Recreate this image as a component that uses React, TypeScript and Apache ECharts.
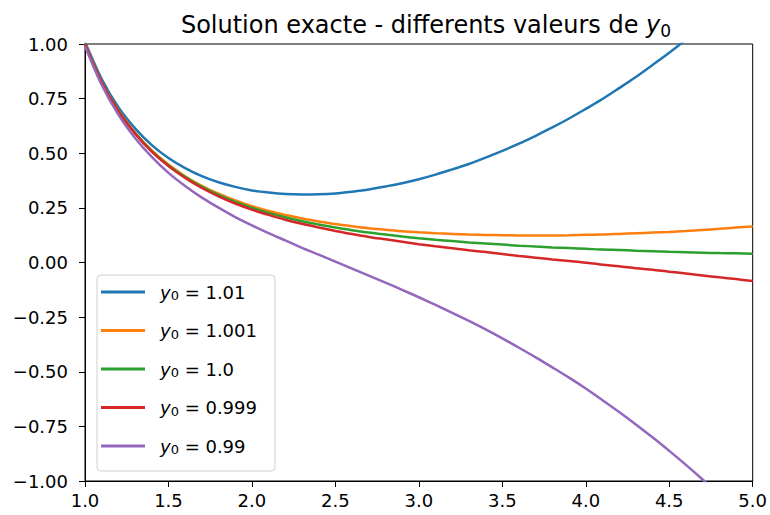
import React, { useEffect, useRef } from "react";
import * as echarts from "echarts";

const xs = [
  1.0, 1.1, 1.2, 1.3, 1.4, 1.5, 1.6, 1.7, 1.8, 1.9, 2.0, 2.1, 2.2, 2.3, 2.4, 2.5, 2.6, 2.7, 2.8, 2.9, 3.0,
  3.1, 3.2, 3.3, 3.4, 3.5, 3.6, 3.7, 3.8, 3.9, 4.0, 4.1, 4.2, 4.3, 4.4, 4.5, 4.6, 4.7, 4.8, 4.9, 5.0,
];

const y0Labels = ["1.01", "1.001", "1.0", "0.999", "0.99"];
const colors = ["#1f77b4", "#ff7f0e", "#2ca02c", "#d62728", "#9467bd"];

const blue = [
  1.01, 0.84, 0.711, 0.614, 0.537, 0.478, 0.432, 0.395, 0.367, 0.346, 0.33, 0.32, 0.313, 0.311, 0.312, 0.316,
  0.324, 0.334, 0.348, 0.363, 0.381, 0.402, 0.426, 0.451, 0.48, 0.511, 0.544, 0.58, 0.618, 0.659, 0.703, 0.748,
  0.798, 0.849, 0.904, 0.96, 1.02, 1.083, 1.149, 1.218, 1.29,
];
const orange = [
  1.001, 0.827, 0.696, 0.594, 0.513, 0.448, 0.395, 0.351, 0.315, 0.284, 0.258, 0.236, 0.218, 0.201, 0.188, 0.176,
  0.166, 0.157, 0.15, 0.143, 0.138, 0.134, 0.131, 0.128, 0.126, 0.125, 0.124, 0.124, 0.124, 0.125, 0.127, 0.128,
  0.131, 0.134, 0.137, 0.14, 0.144, 0.149, 0.154, 0.16, 0.165,
];
const green = [
  1.0, 0.826, 0.694, 0.592, 0.51, 0.444, 0.391, 0.346, 0.309, 0.277, 0.25, 0.227, 0.207, 0.189, 0.174, 0.16,
  0.148, 0.137, 0.128, 0.119, 0.111, 0.104, 0.098, 0.092, 0.087, 0.082, 0.077, 0.073, 0.069, 0.066, 0.063, 0.059,
  0.057, 0.054, 0.052, 0.049, 0.047, 0.045, 0.043, 0.042, 0.04,
];
const red = [
  0.999, 0.825, 0.692, 0.59, 0.507, 0.441, 0.387, 0.341, 0.303, 0.27, 0.242, 0.218, 0.196, 0.177, 0.16, 0.144,
  0.13, 0.117, 0.106, 0.095, 0.084, 0.074, 0.065, 0.056, 0.048, 0.039, 0.03, 0.022, 0.014, 0.007, -0.001, -0.01,
  -0.017, -0.026, -0.033, -0.042, -0.05, -0.059, -0.068, -0.076, -0.085,
];
const purple = [
  0.99, 0.813, 0.677, 0.57, 0.483, 0.41, 0.35, 0.297, 0.251, 0.208, 0.17, 0.134, 0.101, 0.067, 0.036, 0.004,
  -0.028, -0.06, -0.092, -0.125, -0.159, -0.194, -0.23, -0.267, -0.306, -0.347, -0.39, -0.434, -0.48, -0.527,
  -0.577, -0.63, -0.684, -0.741, -0.8, -0.862, -0.926, -0.993, -1.063, -1.135, -1.21,
];

const seriesValues = [blue, orange, green, red, purple];

const FONT = "DejaVu Sans";

export default function App() {
  const ref = useRef<HTMLDivElement>(null);

  useEffect(() => {
    if (!ref.current) return;
    const chart = echarts.init(ref.current, undefined, { renderer: "svg" });
    const names = y0Labels.map((v) => "y0 = " + v);
    chart.setOption({
      animation: false,
      backgroundColor: "#fff",
      title: {
        text: "Solution exacte - differents valeurs de {i|y}{s|0}",
        left: 421,
        textAlign: "center",
        top: 6,
        textStyle: {
          fontFamily: FONT,
          fontSize: 24,
          fontWeight: "normal",
          color: "#000",
          lineHeight: 28,
          rich: {
            i: { fontFamily: FONT, fontSize: 24, fontStyle: "italic", color: "#000", lineHeight: 28 },
            s: { fontFamily: FONT, fontSize: 17, color: "#000", lineHeight: 16, verticalAlign: "bottom" },
          },
        },
      },
      grid: {
        left: 85,
        right: 13,
        top: 44,
        bottom: 34,
        show: true,
        borderColor: "#000",
        borderWidth: 1,
        backgroundColor: "transparent",
      },
      legend: {
        orient: "vertical",
        left: 97,
        top: 275,
        padding: [8, 18, 15, 4],
        icon: "rect",
        itemWidth: 44,
        itemHeight: 3,
        itemGap: 19.5,
        borderColor: "#d0d0d0",
        borderWidth: 1,
        borderRadius: 4,
        backgroundColor: "rgba(255,255,255,0.8)",
        data: names,
        formatter: (name: string) => {
          const v = name.replace("y0 = ", "");
          return "{i|y}{s|0}{t| = " + v + "}";
        },
        textStyle: {
          fontFamily: FONT,
          fontSize: 18,
          color: "#000",
          rich: {
            i: { fontFamily: FONT, fontSize: 18, fontStyle: "italic", color: "#000", lineHeight: 20, padding: [0, 0, 0, 10] },
            s: { fontFamily: FONT, fontSize: 13, color: "#000", lineHeight: 13, verticalAlign: "bottom" },
            t: { fontFamily: FONT, fontSize: 18, color: "#000", lineHeight: 20 },
          },
        },
      },
      xAxis: {
        type: "value",
        min: 1,
        max: 5,
        interval: 0.5,
        splitLine: { show: false },
        axisLine: { show: true, onZero: false, lineStyle: { color: "#000", width: 1 } },
        axisTick: { show: true, length: 6, lineStyle: { color: "#000" } },
        axisLabel: {
          fontFamily: FONT,
          fontSize: 18,
          color: "#000",
          margin: 10,
          formatter: (v: number) => v.toFixed(1),
        },
      },
      yAxis: {
        type: "value",
        min: -1,
        max: 1,
        interval: 0.25,
        splitLine: { show: false },
        axisLine: { show: true, onZero: false, lineStyle: { color: "#000", width: 1 } },
        axisTick: { show: true, length: 6, lineStyle: { color: "#000" } },
        axisLabel: {
          fontFamily: FONT,
          fontSize: 18,
          color: "#000",
          margin: 17,
          formatter: (v: number) => v.toFixed(2).replace("-", "\u2212"),
        },
      },
      series: seriesValues.map((vals, k) => ({
        name: names[k],
        type: "line",
        showSymbol: false,
        symbol: "none",
        smooth: 0.3,
        clip: true,
        color: colors[k],
        lineStyle: { color: colors[k], width: 2.5 },
        data: xs.map((x, i) => [x, vals[i]]),
      })),
    });
    return () => chart.dispose();
  }, []);

  return (
    <div
      ref={ref}
      style={{ position: "absolute", left: 0, top: 0, width: 770, height: 515 }}
    />
  );
}
